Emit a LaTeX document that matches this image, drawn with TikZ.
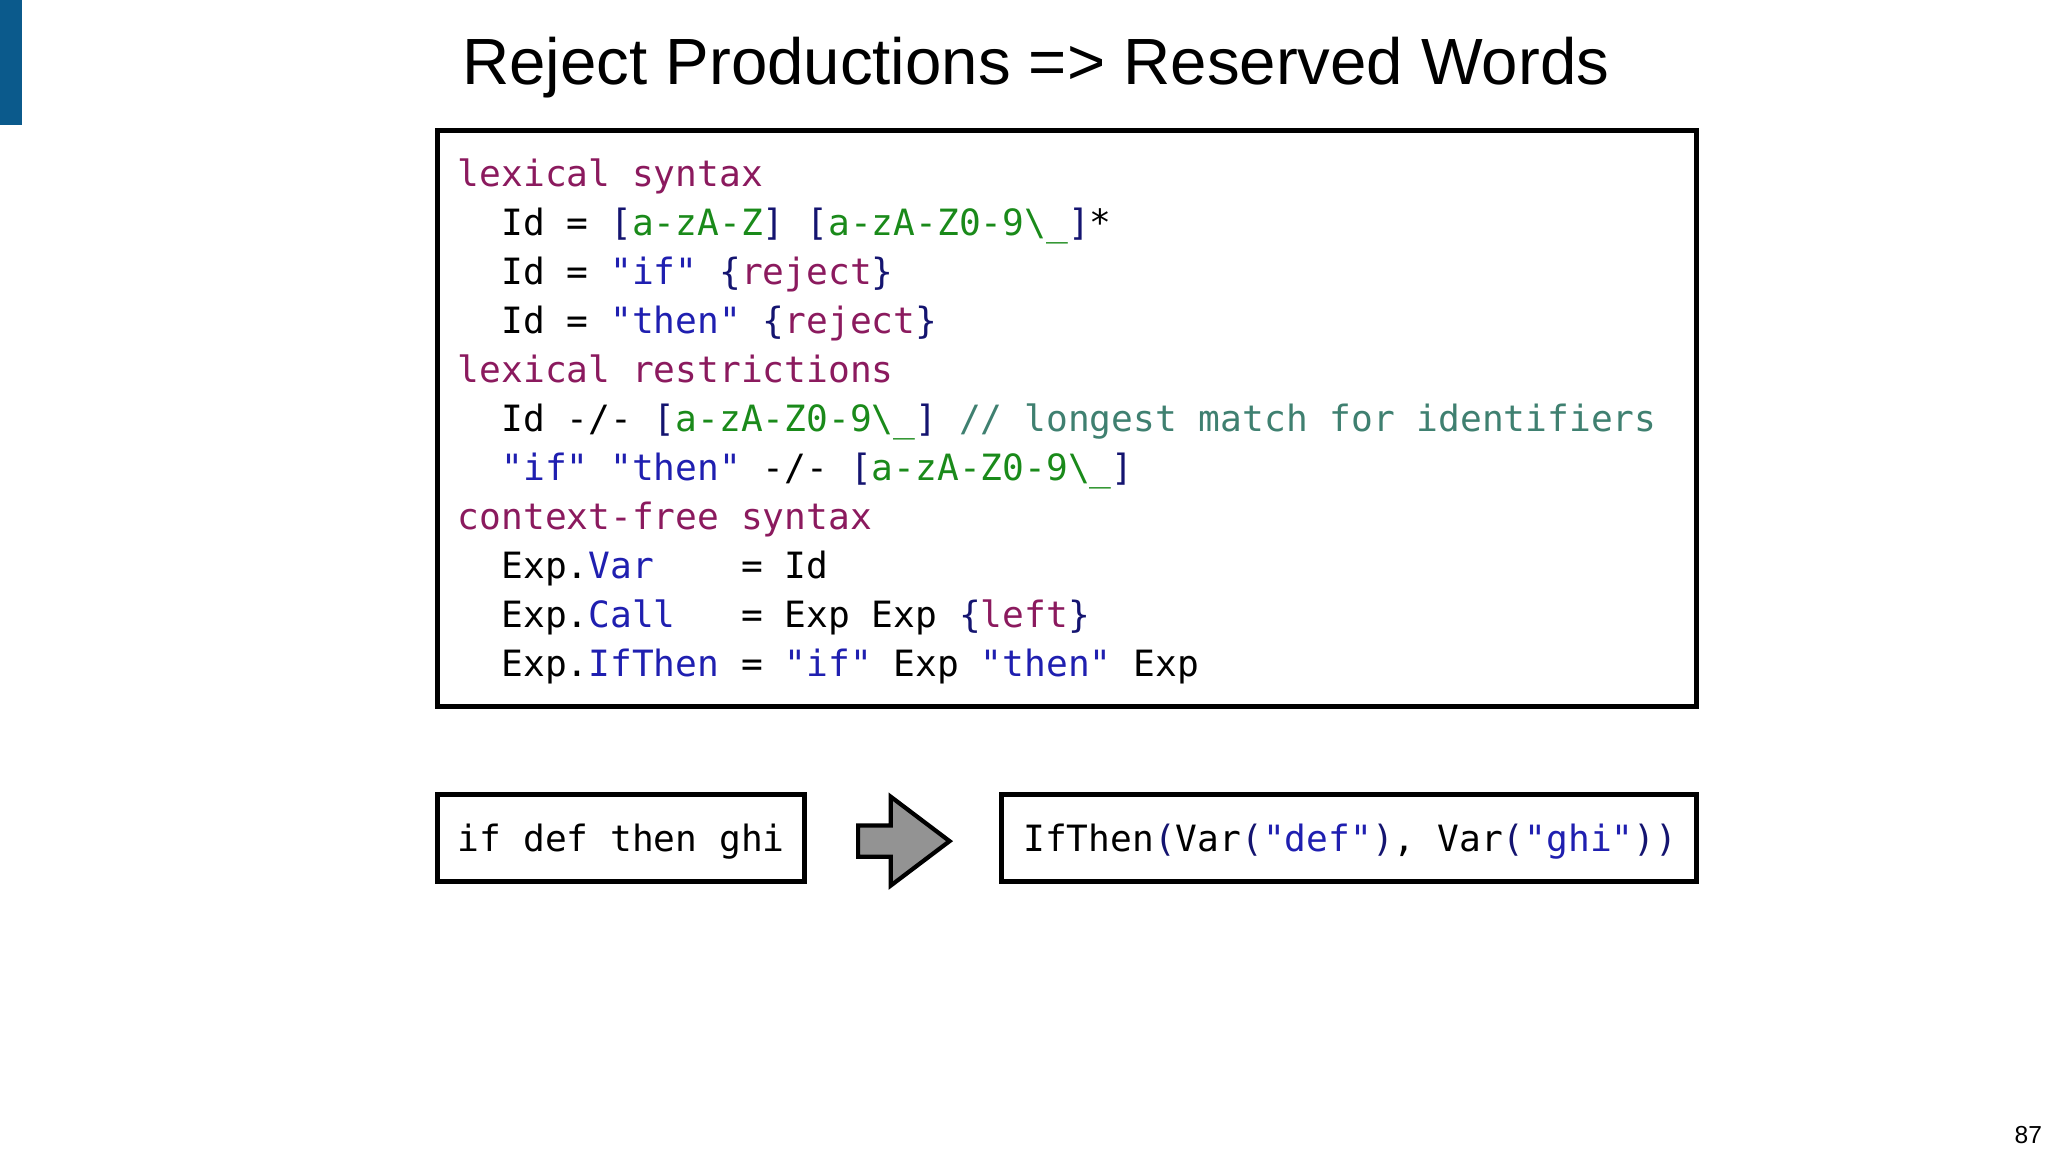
\documentclass[tikz,border=0pt]{standalone}
\usepackage{fontspec}
\setmainfont{Liberation Sans}
\setmonofont{DejaVu Sans Mono}
\definecolor{kw}{HTML}{8B1A5E}
\definecolor{st}{HTML}{1F1FB0}
\definecolor{gr}{HTML}{1A8A1A}
\definecolor{cm}{HTML}{3F8070}
\definecolor{br}{HTML}{141470}
\definecolor{bar}{HTML}{0B5A8C}
\newcommand\ckw[1]{\textcolor{kw}{#1}}
\newcommand\cst[1]{\textcolor{st}{#1}}
\newcommand\cgr[1]{\textcolor{gr}{#1}}
\newcommand\ccm[1]{\textcolor{cm}{#1}}
\newcommand\cbr[1]{\textcolor{br}{#1}}
\newcommand\cls{\cbr{[}\cgr{a-zA-Z0-9\textbackslash\_}\cbr{]}}
\tikzset{code/.style={anchor=base west,inner sep=0pt,font=\fontsize{10.3}{12}\selectfont\ttfamily},
box/.style={draw=black,line width=1.4pt}}
\begin{document}
\begin{tikzpicture}[x=0.01306cm,y=-0.01306cm]
\useasboundingbox (0,0) rectangle (1568,882);
\fill[bar] (0,0) rectangle (17,96);
\node[font=\fontsize{18.6}{21}\selectfont] (title) at (793,52) {Reject Productions =\kern0pt> Reserved Words};
\draw[box] (335,100) rectangle (1299,541);
\node[code] (l1) at (350,143) {\ckw{lexical syntax}};
\node[code] (l2) at (350,180.5) {~~Id = \cbr{[}\cgr{a-zA-Z}\cbr{]} \cls*};
\node[code] (l3) at (350,218) {~~Id = \cst{"if"} \cbr{\{}\ckw{reject}\cbr{\}}};
\node[code] (l4) at (350,255.5) {~~Id = \cst{"then"} \cbr{\{}\ckw{reject}\cbr{\}}};
\node[code] (l5) at (350,293) {\ckw{lexical restrictions}};
\node[code] (l6) at (350,330.5) {~~Id -/- \cls{} \ccm{// longest match for identifiers}};
\node[code] (l7) at (350,368) {~~\cst{"if" "then"} -/- \cls};
\node[code] (l8) at (350,405.5) {\ckw{context-free syntax}};
\node[code] (l9) at (350,443) {~~Exp.\cst{Var}~~~~= Id};
\node[code] (l10) at (350,480.5) {~~Exp.\cst{Call}~~~= Exp Exp \cbr{\{}\ckw{left}\cbr{\}}};
\node[code] (l11) at (350,518) {~~Exp.\cst{IfThen} = \cst{"if"} Exp \cst{"then"} Exp};
\draw[box] (335,608) rectangle (616,675);
\node[code] (in) at (350,652) {if def then ghi};
\draw[line width=1.2pt,fill=gray!85] (657,632) -- (682,632) -- (682,610) -- (727,644) -- (682,678) -- (682,656) -- (657,656) -- cycle;
\draw[box] (767,608) rectangle (1299,675);
\node[code] (out) at (783,652) {IfThen\cbr{(}Var\cbr{(}\cst{"def"}\cbr{)}, Var\cbr{(}\cst{"ghi"}\cbr{))}};
\node[font=\fontsize{7}{8}\selectfont] (pg) at (1553,869) {87};
\end{tikzpicture}
\end{document}
